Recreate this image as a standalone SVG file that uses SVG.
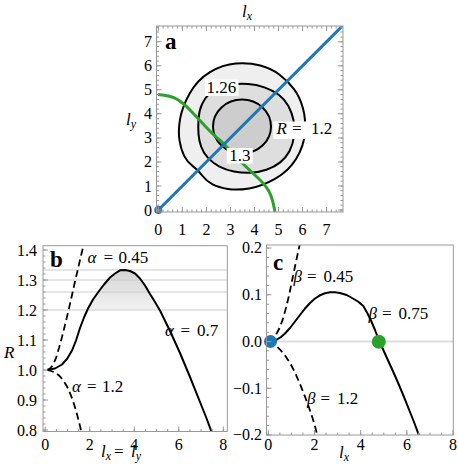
<svg xmlns="http://www.w3.org/2000/svg" width="458" height="464" viewBox="0 0 458 464">
<style>
text{font-family:"Liberation Serif","DejaVu Serif",serif;fill:#000}
.tl{font-size:16px;text-anchor:end}
.tc{font-size:16px;text-anchor:middle}
.it{font-style:italic}
.lab{font-size:17px}
.bold{font-size:23px;font-weight:bold}
.frame{fill:none;stroke:#999;stroke-width:1}
.tick{stroke:#999;fill:none}
.curve{fill:none;stroke:#000;stroke-width:2;stroke-linejoin:round}
.dash{fill:none;stroke:#000;stroke-width:1.8;stroke-dasharray:7 4}
.contour{stroke:#000;stroke-width:2}
.box{fill:#fff}
.ref{stroke:#ccc;stroke-width:1}
</style>
<defs>
<clipPath id="clipA"><rect x="156.5" y="26" width="186.5" height="186"/></clipPath>
<clipPath id="clipB"><rect x="43" y="245.7" width="184.3" height="185.8"/></clipPath>
<clipPath id="clipC"><rect x="266.5" y="245" width="186.8" height="190"/></clipPath>
<linearGradient id="shade" x1="0" y1="270" x2="0" y2="310" gradientUnits="userSpaceOnUse">
<stop offset="0" stop-color="#d4d4d4"/><stop offset="1" stop-color="#f2f2f2"/>
</linearGradient>
</defs>
<rect width="458" height="464" fill="#fff"/>

<!-- Panel a -->
<g id="panel-a">
<g clip-path="url(#clipA)">
<path class="contour" fill="#efefef" d="M 179.55,140.7 Q 178,131.6 180,119.4 Q 182,107.2 189.65,93.5 Q 197.3,79.8 210,72.15 Q 222.7,64.5 235.9,63.5 Q 249.1,62.5 260.3,65.55 Q 271.5,68.6 279.6,74.7 Q 287.7,80.8 293.8,88.9 Q 299.9,97 302.95,108.2 Q 306,119.4 305,132.6 Q 304,145.8 296.35,158.5 Q 288.7,171.2 275,178.8 Q 261.3,186.4 249.15,188.45 Q 237,190.5 227.85,188.95 Q 218.7,187.4 212.6,184.35 Q 206.5,181.3 202.4,175.75 Q 198.3,170.2 192.75,166.1 Q 187.2,162 184.15,155.9 Q 181.1,149.8 179.55,140.7 Z"/>
<path class="contour" fill="#dedede" d="M 198.5,134.15 Q 198,128 198.5,119.25 Q 199,110.5 202.15,103.9 Q 205.3,97.3 209.4,93.75 Q 213.5,90.2 219.6,87.6 Q 225.7,85 232.85,84.25 Q 240,83.5 248.1,84 Q 256.2,84.5 264.4,87.35 Q 272.6,90.2 278.7,94.75 Q 284.8,99.3 288.4,105.95 Q 292,112.6 293.5,120.3 Q 295,128 294,136.25 Q 293,144.5 289.4,151.15 Q 285.8,157.8 280.15,162.4 Q 274.5,167 266.4,169.75 Q 258.3,172.5 250.15,172.75 Q 242,173 233.85,171.5 Q 225.7,170 219.05,166.4 Q 212.4,162.8 207.8,157.7 Q 203.2,152.6 201.1,146.45 Q 199,140.3 198.5,134.15 Z"/>
<ellipse class="contour" fill="#cdcdcd" cx="242" cy="126.5" rx="29" ry="27"/>
<path fill="none" stroke="#2ca02c" stroke-width="3" d="M158,94.5 Q171,95.5 177.5,99.5 Q184,103.5 191,111 Q198,118.5 206,127 Q214,135.5 219.25,139.75 Q224.5,144 228.75,149.25 Q233,154.5 241.5,162.5 Q250,170.5 257.5,177.5 Q265,184.5 268.75,191 Q272.5,197.5 275,212"/>
<line x1="158.3" y1="210" x2="343.5" y2="24.8" stroke="#1f77b4" stroke-width="3"/>
</g>
<circle cx="158.3" cy="210" r="4" fill="#1f77b4"/>
<rect class="box" x="205" y="79.5" width="33.5" height="16.5"/>
<text class="lab" x="206.5" y="93.3">1.26</text>
<rect class="box" x="226.7" y="148" width="26" height="15.5"/>
<text class="lab" x="229.3" y="161">1.3</text>
<rect class="box" x="273.3" y="121.5" width="62.5" height="17.5"/>
<text class="lab" y="134"><tspan class="it" x="276.5">R</tspan><tspan x="292">=</tspan><tspan x="311">1.2</tspan></text>
<rect class="frame" x="156.5" y="26" width="186.5" height="186"/>
<g class="tick">
<line x1="157.8" y1="210.75" x2="343" y2="210.75" stroke-width="2.5" stroke-dasharray="1 3.808"/>
<line x1="157.8" y1="27.25" x2="343" y2="27.25" stroke-width="2.5" stroke-dasharray="1 3.808"/>
<line x1="157.75" y1="210.5" x2="157.75" y2="26" stroke-width="2.5" stroke-dasharray="1 3.808"/>
<line x1="341.75" y1="210.5" x2="341.75" y2="26" stroke-width="2.5" stroke-dasharray="1 3.808"/>
<line x1="157.8" y1="209.5" x2="343" y2="209.5" stroke-width="5" stroke-dasharray="1 23.04"/>
<line x1="157.8" y1="28.5" x2="343" y2="28.5" stroke-width="5" stroke-dasharray="1 23.04"/>
<line x1="159" y1="210.5" x2="159" y2="26" stroke-width="5" stroke-dasharray="1 23.04"/>
<line x1="340.5" y1="210.5" x2="340.5" y2="26" stroke-width="5" stroke-dasharray="1 23.04"/>
</g>
<text class="bold" x="165" y="48.5">a</text>
<g class="tl">
<text x="152" y="215.5">0</text><text x="152" y="191.5">1</text><text x="152" y="167.4">2</text><text x="152" y="143.4">3</text>
<text x="152" y="119.3">4</text><text x="152" y="95.3">5</text><text x="152" y="71.3">6</text><text x="152" y="47.2">7</text>
</g>
<g class="tc">
<text x="158.3" y="235">0</text><text x="182.3" y="235">1</text><text x="206.4" y="235">2</text><text x="230.4" y="235">3</text>
<text x="254.5" y="235">4</text><text x="278.5" y="235">5</text><text x="302.5" y="235">6</text><text x="326.6" y="235">7</text>
</g>
<text class="lab it" x="242" y="16.5">l<tspan font-size="12" dy="3">x</tspan></text>
<text class="lab it" x="126" y="125">l<tspan font-size="12" dy="3">y</tspan></text>
</g>

<!-- Panel b -->
<g id="panel-b">
<path fill="url(#shade)" d="M87,310 L88,308.5 L93,299.5 L98.3,292 L104,284.5 L110,277.5 L115,273.5 L120,270.3 L125,270 L130,271 L135,273.5 L140,278.5 L145,285.5 L150,294 L155,302 L159.7,310 Z"/>
<g class="ref">
<line x1="43" y1="270" x2="227.3" y2="270"/>
<line x1="43" y1="280" x2="227.3" y2="280"/>
<line x1="43" y1="292" x2="227.3" y2="292"/>
<line x1="43" y1="310" x2="227.3" y2="310"/>
</g>
<g clip-path="url(#clipB)">
<polyline class="curve" points="47,370 55,368.5 62,364.5 67,359 72,350.5 76,340.5 80,328 84,317.5 88,308.5 93,299.5 98.3,292 104,284.5 110,277.5 115,273.5 120,270.3 125,270 130,271 135,273.5 140,278.5 145,285.5 150,294 155,302 160,310.5 170,331 180,353 190,377 200,402 206,417 212,433"/>
<polyline class="dash" points="47,370 50,368.5 53,365 56,358 59,348 62,337 65,325 68,312.5 71,299.5 74,286 77,273 80,260 83,247.5 83.5,245"/>
<polyline class="dash" points="47,370 51,371 55,372.5 59,375.5 63,380 67,386.5 70,393 73,401 76,410.5 78.5,420 80.5,428 81.3,432"/>
</g>
<rect class="frame" x="43" y="245.7" width="184.3" height="185.8"/>
<g class="tick">
<line x1="44.25" y1="430.5" x2="44.25" y2="246" stroke-width="2.5" stroke-dasharray="1 5"/>
<line x1="45.5" y1="430.5" x2="45.5" y2="246" stroke-width="5" stroke-dasharray="1 29"/>
<line x1="44.8" y1="430.25" x2="227.3" y2="430.25" stroke-width="2.5" stroke-dasharray="1 10.125"/>
<line x1="44.8" y1="429" x2="227.3" y2="429" stroke-width="5" stroke-dasharray="1 43.5"/>
</g>
<text class="bold" x="50" y="266.5">b</text>
<text class="lab" y="263"><tspan class="it" x="87.5">α</tspan><tspan x="103.5">=</tspan><tspan x="118.5">0.45</tspan></text>
<text class="lab" y="336"><tspan class="it" x="165">α</tspan><tspan x="180.5">=</tspan><tspan x="197">0.7</tspan></text>
<text class="lab" y="392"><tspan class="it" x="72">α</tspan><tspan x="87">=</tspan><tspan x="102">1.2</tspan></text>
<g class="tl">
<text x="37" y="255.5">1.4</text><text x="37" y="285.5">1.3</text><text x="37" y="315.5">1.2</text><text x="37" y="345.5">1.1</text>
<text x="37" y="375.5">1.0</text><text x="37" y="405.5">0.9</text><text x="37" y="435.5">0.8</text>
</g>
<g class="tc">
<text x="45.3" y="450">0</text><text x="89.8" y="450">2</text><text x="134.3" y="450">4</text><text x="178.8" y="450">6</text><text x="223.3" y="450">8</text>
</g>
<text class="lab it" x="4" y="358">R</text>
<text class="lab" y="457"><tspan class="it" x="101">l</tspan><tspan class="it" font-size="12" dy="3">x</tspan><tspan x="114" dy="-3">=</tspan><tspan class="it" x="131">l</tspan><tspan class="it" font-size="12" dy="3">y</tspan></text>
</g>

<!-- Panel c -->
<g id="panel-c">
<line x1="266.5" y1="341.5" x2="453.3" y2="341.5" stroke="#dddddd" stroke-width="2"/>
<g clip-path="url(#clipC)">
<polyline class="curve" points="268.3,341.5 273,341 277,339.5 281,337 285,333.5 290,328 295,321.5 300,315 305,308.5 310,303 315,298.5 320,295.3 325,293.3 330,292.3 335,292.3 340,293 346.7,295 352,298 358,301.5 363.3,306 367,312.5 371,320.5 375,330 379,340.5 384,351.5 389,362.5 394,373.5 399,385 404,397 409,409.5 414,422 419,435.5"/>
<polyline class="dash" points="268.3,341.5 271,340 274,337.5 277,333 280,327 283,318.5 286,308 289,295.5 292,281 295,266.5 298,252.5 299.7,244.5"/>
<polyline class="dash" points="268.3,341.5 272,342.5 276,345.5 280,349.5 285,355.5 290,363 295,372.5 300,384 305,396.7 309,407.5 313,419.5 316,430 317.5,436"/>
</g>
<circle cx="270.5" cy="341.5" r="6.5" fill="#1f77b4"/>
<circle cx="378.8" cy="341.8" r="7" fill="#2ca02c"/>
<rect class="frame" x="266.5" y="245" width="186.8" height="190"/>
<g class="tick">
<line x1="267.75" y1="435.4" x2="267.75" y2="245" stroke-width="2.5" stroke-dasharray="1 8.34"/>
<line x1="269" y1="435.4" x2="269" y2="245" stroke-width="5" stroke-dasharray="1 45.7"/>
<line x1="267.8" y1="433.75" x2="453.3" y2="433.75" stroke-width="2.5" stroke-dasharray="1 10.55"/>
<line x1="267.8" y1="432.5" x2="453.3" y2="432.5" stroke-width="5" stroke-dasharray="1 45.2"/>
</g>
<text class="bold" x="273" y="270">c</text>
<text class="lab" y="282"><tspan class="it" x="293.5">β</tspan><tspan x="307">=</tspan><tspan x="323.5">0.45</tspan></text>
<text class="lab" y="318.5"><tspan class="it" x="368.5">β</tspan><tspan x="382">=</tspan><tspan x="398.5">0.75</tspan></text>
<text class="lab" y="403.5"><tspan class="it" x="307">β</tspan><tspan x="320.5">=</tspan><tspan x="337">1.2</tspan></text>
<g class="tl">
<text x="262" y="253">0.2</text><text x="262" y="300">0.1</text><text x="262" y="347">0.0</text>
<text x="262" y="393.5">−0.1</text><text x="262" y="440">−0.2</text>
</g>
<g class="tc">
<text x="268.3" y="450">0</text><text x="314.5" y="450">2</text><text x="360.7" y="450">4</text><text x="406.9" y="450">6</text><text x="453.1" y="450">8</text>
</g>
<text class="lab it" x="339" y="458">l<tspan font-size="12" dy="3">x</tspan></text>
</g>
</svg>
